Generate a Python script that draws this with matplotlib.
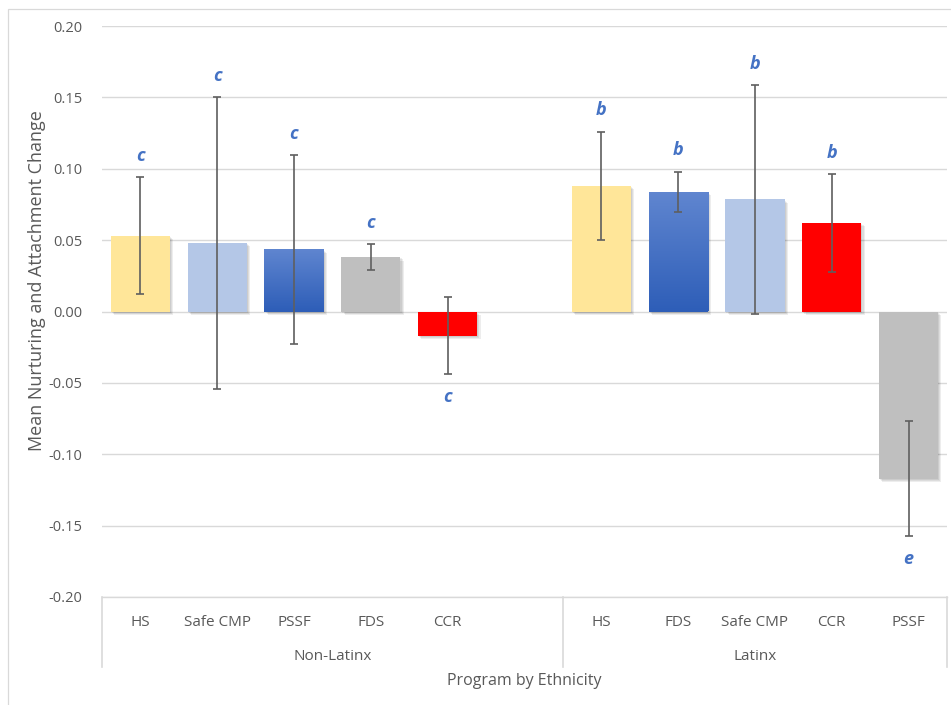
import numpy as np
import matplotlib
matplotlib.use("Agg")
import matplotlib.pyplot as plt
from matplotlib import patheffects
from matplotlib.patches import Rectangle

plt.rcParams["font.family"] = ["Open Sans", "DejaVu Sans"]

# ---- data -------------------------------------------------------------
groups = ["Non-Latinx", "Latinx"]

nonlatinx_programs = ["HS", "Safe CMP", "PSSF", "FDS", "CCR"]
nonlatinx_means = [0.053, 0.048, 0.0435, 0.038, -0.017]
nonlatinx_err = [0.041, 0.102, 0.066, 0.009, 0.027]
nonlatinx_letters = ["c", "c", "c", "c", "c"]

latinx_programs = ["HS", "FDS", "Safe CMP", "CCR", "PSSF"]
latinx_means = [0.088, 0.084, 0.0785, 0.062, -0.117]
latinx_err = [0.038, 0.014, 0.080, 0.034, 0.040]
latinx_letters = ["b", "b", "b", "b", "e"]

yticks = [-0.20, -0.15, -0.10, -0.05, 0.00, 0.05, 0.10, 0.15, 0.20]

# ---- styling ------------------------------------------------------------
program_colors = {
    "HS": "#FFE699",
    "Safe CMP": "#B4C7E7",
    "CCR": "#FF0000",
}
GRAD_TOP = np.array([0x60, 0x86, 0xD0]) / 255.0
GRAD_BOT = np.array([0x2E, 0x5E, 0xB8]) / 255.0
GRAY = "#BFBFBF"
TEXT = "#595959"
GRID = "#D9D9D9"
LETTER = "#4472C4"

W, H, DPI = 951, 705, 100
fig = plt.figure(figsize=(W / DPI, H / DPI), dpi=DPI)
ax_left, ax_right, ax_top, ax_bot = 102, 947, 26, 597
ax = fig.add_axes([ax_left / W, 1 - ax_bot / H,
                   (ax_right - ax_left) / W, (ax_bot - ax_top) / H])

# chart-area frame
fig.patches.append(Rectangle((8 / W, -0.1), 1.2, 1 - 9 / H + 0.1,
                             transform=fig.transFigure, fill=False,
                             edgecolor=GRID, lw=0.9, zorder=0))

# one empty slot between the two groups
x_non = np.arange(len(nonlatinx_programs))
x_lat = np.arange(len(latinx_programs)) + len(nonlatinx_programs) + 1
n_slots = len(nonlatinx_programs) + 1 + len(latinx_programs)

bar_w = 0.77
# soft drop shadow built from a few faint offset copies
shadow = [patheffects.SimplePatchShadow(offset=(d, -d), shadow_rgbFace="black", alpha=0.07)
          for d in (0.8, 1.6, 2.4)] + [patheffects.Normal()]

# colour scheme differs for the blue/gray bars between the two groups
non_fill = [program_colors["HS"], program_colors["Safe CMP"], "grad", GRAY, program_colors["CCR"]]
lat_fill = [program_colors["HS"], "grad", program_colors["Safe CMP"], program_colors["CCR"], GRAY]

grad = np.linspace(0, 1, 256)[:, None, None]
grad_img = GRAD_TOP * (1 - grad) + GRAD_BOT * grad


def draw_bars(xs, means, errs, fills, letters):
    for x, m, e, f, letter in zip(xs, means, errs, fills, letters):
        face = GRAD_BOT if f == "grad" else f
        bars = ax.bar(x, m, width=bar_w, color=face, zorder=2)
        patch = bars.patches[0]
        patch.set_path_effects(shadow)
        if f == "grad":
            img = ax.imshow(grad_img, extent=(x - bar_w / 2, x + bar_w / 2, min(0, m), max(0, m)),
                            aspect="auto", zorder=2.1, interpolation="bilinear")
            img.set_clip_path(patch)
        ax.errorbar(x, m, yerr=e, fmt="none", ecolor="#5F5F5F", elinewidth=1.2,
                    capsize=3, capthick=1.2, zorder=4)
        if m >= 0:
            ax.annotate(letter, xy=(x, m + e), xytext=(0, 12), textcoords="offset points",
                        ha="center", va="baseline", color=LETTER, fontsize=13,
                        fontweight="bold", fontstyle="italic")
        else:
            ax.annotate(letter, xy=(x, m - e), xytext=(0, -10), textcoords="offset points",
                        ha="center", va="top", color=LETTER, fontsize=13,
                        fontweight="bold", fontstyle="italic")


draw_bars(x_non, nonlatinx_means, nonlatinx_err, non_fill, nonlatinx_letters)
draw_bars(x_lat, latinx_means, latinx_err, lat_fill, latinx_letters)

# axes
ax.set_xlim(-0.5, n_slots - 0.5)
ax.set_ylim(yticks[0], yticks[-1])
ax.set_yticks(yticks)
ax.set_yticklabels([f"{v:.2f}" for v in yticks], color=TEXT, fontsize=10.5)
ax.tick_params(axis="y", length=0, pad=14)
ax.grid(axis="y", color=GRID, lw=1.0, zorder=0)
ax.set_axisbelow(True)
for s in ["top", "right", "left"]:
    ax.spines[s].set_visible(False)
ax.spines["bottom"].set_color(GRID)
ax.spines["bottom"].set_linewidth(1.0)

ax.set_xticks(list(x_non) + list(x_lat))
ax.set_xticklabels(nonlatinx_programs + latinx_programs, color=TEXT, fontsize=11)
ax.tick_params(axis="x", length=0, pad=13)

# group separators and group labels below the category labels
ax_h_px = ax_bot - ax_top
sep_depth = 70 / ax_h_px
for xb in [-0.5, x_non[-1] + 1.5, n_slots - 0.5]:
    ax.plot([xb, xb], [0, -sep_depth], transform=ax.get_xaxis_transform(),
            color=GRID, lw=1.2, clip_on=False, zorder=1)

group_centers = [(-0.5 + x_non[-1] + 1.5) / 2, (x_non[-1] + 1.5 + n_slots - 0.5) / 2]
for gx, g in zip(group_centers, groups):
    ax.annotate(g, xy=(gx, 0), xycoords=("data", "axes fraction"),
                xytext=(0, -59 * 0.72), textcoords="offset points",
                ha="center", va="center", color=TEXT, fontsize=11)

fig.text((ax_left + ax_right) / 2 / W, 1 - 681 / H, "Program by Ethnicity",
         ha="center", va="center", color=TEXT, fontsize=11.5)
fig.text(37 / W, 1 - 281 / H, "Mean Nurturing and Attachment Change",
         rotation=90, ha="center", va="center", color=TEXT, fontsize=13)

fig.savefig("out.png", dpi=DPI)
